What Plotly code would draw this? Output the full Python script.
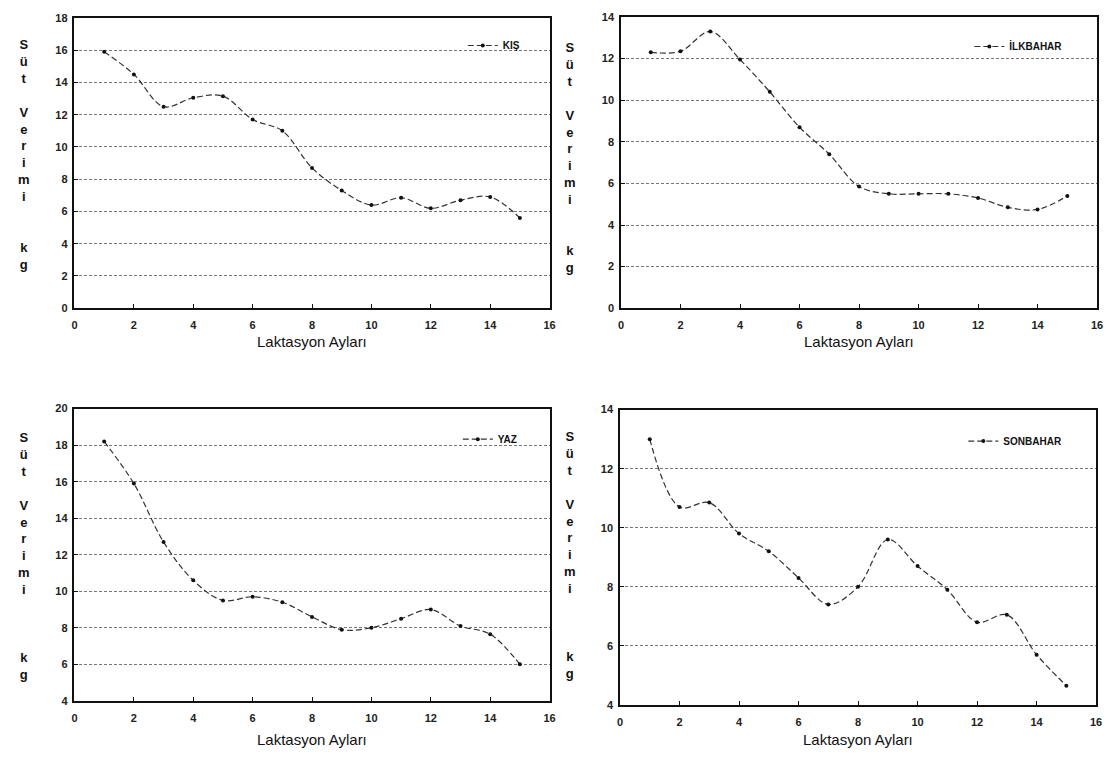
import plotly.graph_objects as go

months = list(range(1, 16))

kis = [15.9, 14.5, 12.5, 13.05, 13.15, 11.7, 11.0, 8.7, 7.3, 6.4, 6.85, 6.2, 6.7, 6.9, 5.6]
ilkbahar = [12.3, 12.35, 13.3, 11.95, 10.4, 8.7, 7.4, 5.85, 5.5, 5.5, 5.5, 5.3, 4.85, 4.75, 5.4]
yaz = [18.2, 15.9, 12.7, 10.6, 9.5, 9.7, 9.4, 8.6, 7.9, 8.0, 8.5, 9.0, 8.1, 7.65, 6.0]
sonbahar = [13.0, 10.7, 10.85, 9.8, 9.2, 8.3, 7.4, 8.0, 9.6, 8.7, 7.9, 6.8, 7.05, 5.7, 4.65]

series_names = ["KIŞ", "İLKBAHAR", "YAZ", "SONBAHAR"]
series_values = [kis, ilkbahar, yaz, sonbahar]
y_ranges = [[0, 18], [0, 14], [4, 20], [4, 14]]
x_ticks = list(range(0, 17, 2))
x_title = "Laktasyon Ayları"
y_title_top = ["S", "ü", "t", "", "V", "e", "r", "i", "m", "i", "", "", "k", "g"]
y_title_bottom = ["S", "ü", "t", "", "V", "e", "r", "i", "m", "i", "", "", "", "k", "g"]

OFF = 8  # page body margin
W, H = 1113 - OFF, 763 - OFF
# plot areas in reference-page pixels: (left, right, top, bottom)
boxes = [(72, 551, 12, 307), (623, 1103, 11, 307), (72, 551, 409, 706), (622, 1102, 410, 710)]
legend_pos = [(526, 40), (1073, 41), (524, 440), (1073, 442)]
ytitle_pos = [(21, 151), (572, 154), (21, 559), (572, 558)]
xtitle_y = [341, 341, 745, 745]


def px(xp):
    return (xp - OFF) / W


def py(yp):
    return 1 - (yp - OFF) / H


fig = go.Figure()
font_fam = "Liberation Sans, Arial, sans-serif"

for i, (name, vals) in enumerate(zip(series_names, series_values)):
    ax = "" if i == 0 else str(i + 1)
    lg = "legend" if i == 0 else f"legend{i + 1}"
    fig.add_trace(go.Scatter(
        x=months, y=vals, name=name, mode="lines+markers",
        line=dict(color="#333333", width=1.2, dash="6px,3px", shape="spline", smoothing=1.0),
        marker=dict(size=4, color="#111111"),
        xaxis="x" + ax, yaxis="y" + ax, legend=lg, showlegend=True,
    ))
    l, r, t, b = boxes[i]
    common = dict(showline=True, linecolor="#111111", linewidth=1.5, mirror=True,
                  ticks="inside", ticklen=4, tickcolor="#111111", zeroline=False,
                  tickfont=dict(family=font_fam, size=11, color="#222222", weight="bold"))
    fig.layout["xaxis" + ax] = dict(domain=[px(l), px(r)], range=[0, 16], tickvals=x_ticks,
                                    showgrid=False, anchor="y" + ax, ticklabelstandoff=6, **common)
    fig.layout["yaxis" + ax] = dict(domain=[py(b), py(t)], range=y_ranges[i], dtick=2, showgrid=True,
                                    gridcolor="#777777", griddash="3px,2px", gridwidth=1,
                                    anchor="x" + ax, ticklabelstandoff=3, **common)
    lx, ly = legend_pos[i]
    fig.layout[lg] = dict(x=px(lx), y=py(ly), xanchor="right", yanchor="middle",
                          bgcolor="rgba(0,0,0,0)", itemwidth=30,
                          font=dict(family=font_fam, size=10, color="#111111", weight="bold"))
    fig.add_annotation(x=px((l + r) / 2), y=py(xtitle_y[i]), xref="paper", yref="paper",
                       xanchor="center", yanchor="middle",
                       text=x_title, showarrow=False,
                       font=dict(family=font_fam, size=15, color="#111111"))
    letters = y_title_top if i < 2 else y_title_bottom
    tx, ty = ytitle_pos[i]
    fig.add_annotation(x=px(tx), y=py(ty), xref="paper", yref="paper",
                       xanchor="center", yanchor="middle",
                       text="<br>".join(letters), showarrow=False, align="center",
                       font=dict(family=font_fam, size=13, color="#111111", weight="bold"))

fig.update_layout(width=W, height=H, margin=dict(l=0, r=0, t=0, b=0),
                  paper_bgcolor="white", plot_bgcolor="white")

fig.write_html("out.html")
